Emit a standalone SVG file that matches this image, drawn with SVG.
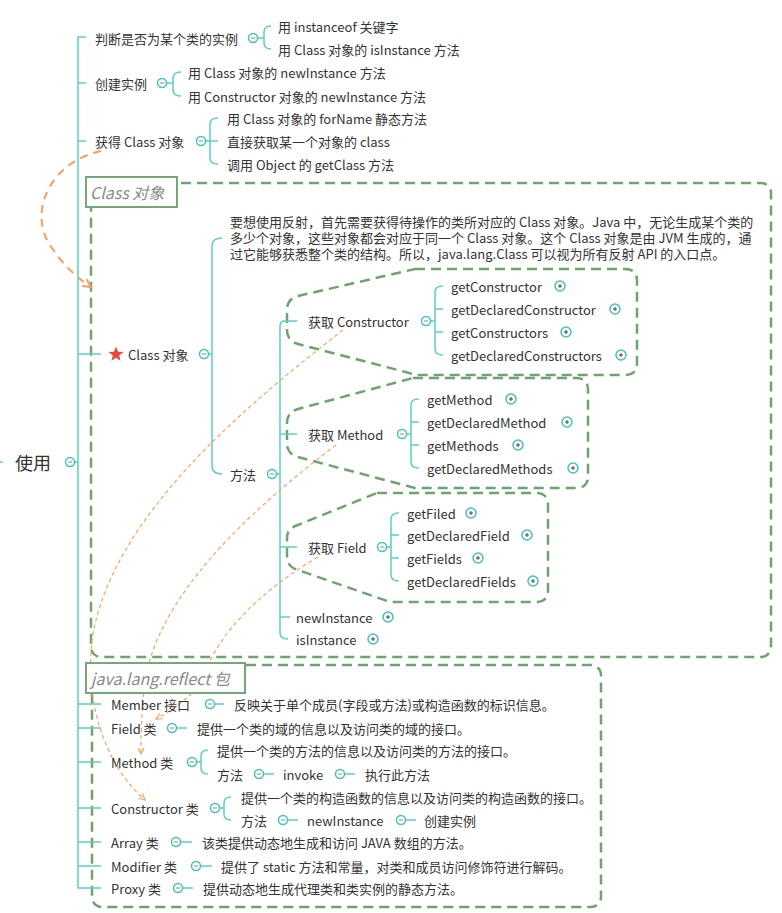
<svg xmlns="http://www.w3.org/2000/svg" width="782" height="913" viewBox="0 0 782 913">
<style>
.t{font-family:"Noto Sans CJK SC","Liberation Sans",sans-serif;font-size:13px;fill:#333;dominant-baseline:central}
.lb{font-family:"Noto Sans CJK SC","Liberation Sans",sans-serif;font-size:16px;font-style:italic;fill:#8a8a8a;dominant-baseline:central}
.ln{fill:none;stroke:#5ccfc0;stroke-width:1.5}
.gd{fill:none;stroke:#6fa36f;stroke-width:2.5;stroke-dasharray:10 6}
.box{fill:#fff;stroke:#74a874;stroke-width:2}
.ob{fill:none;stroke:#f5a05a;stroke-width:2;stroke-dasharray:8 6}
.os{fill:none;stroke:#f5a562;stroke-width:1.2;stroke-dasharray:4 3}
</style>
<defs>
<g id="mi"><circle r="4.5" fill="#fff" stroke="#3fc6b6" stroke-width="1.5"/><line x1="-2.2" x2="2.2" stroke="#8a8a8a" stroke-width="1"/></g>
<g id="pl"><circle r="5" fill="#fff" stroke="#3fc6b6" stroke-width="1.5"/><line x1="-2" x2="2" stroke="#445" stroke-width="1"/><line y1="-2" y2="2" stroke="#445" stroke-width="1"/></g>
<marker id="ab" markerWidth="12" markerHeight="12" refX="9" refY="5" orient="auto" markerUnits="userSpaceOnUse"><path d="M1,1 L9,5 L1,9" fill="none" stroke="#f5a05a" stroke-width="2"/></marker>
<marker id="as" markerWidth="10" markerHeight="10" refX="7" refY="4" orient="auto" markerUnits="userSpaceOnUse"><path d="M1,1 L7,4 L1,7" fill="none" stroke="#f5a562" stroke-width="1.2"/></marker>
</defs>

<!-- group frames -->
<g id="frame-class">
<rect class="gd" x="91" y="183" width="680" height="474" rx="10"/>
</g>
<g id="frame-reflect">
<rect class="gd" x="92" y="665" width="509" height="242" rx="10"/>
</g>
<g id="callouts">
<path class="gd" d="M 415 269 H 625 Q 637 269 637 281 V 363 Q 637 375 625 375 H 417 L 298 344 Q 287 341 287 330 V 310 Q 287 299 298 296 Z"/>
<path class="gd" d="M 413 378 H 576 Q 588 378 588 390 V 476 Q 588 488 576 488 H 415 L 298 457 Q 287 454 287 443 V 423 Q 287 412 298 409 Z"/>
<path class="gd" d="M 377 493 H 536 Q 548 493 548 505 V 590 Q 548 602 536 602 H 390 L 298 570 Q 287 567 287 556 V 538 Q 287 528 298 525 Z"/>
</g>

<!-- connectors -->
<g id="connectors">
<path class="ln" d="M 0 462 H 3 M 75 462 H 78 M 86 37 H 78 V 888 H 101 M 78 83 H 86 M 78 141 H 86 M 78 354 H 101 M 78 704 H 101 M 78 728 H 101 M 78 762 H 101 M 78 808 H 101 M 78 842 H 101 M 78 866 H 101"/>
<path class="ln" d="M 258 38 H 264 M 271 26 Q 264 26 264 32 V 43 Q 264 49 271 49"/>
<path class="ln" d="M 167 83 H 173 M 181 72 Q 173 72 173 78 V 90 Q 173 96 181 96"/>
<path class="ln" d="M 206 141 H 218 M 218 118 Q 210 118 210 124 V 158 Q 210 164 218 164"/>
<path class="ln" d="M 209 354 H 212 M 222 238 Q 212 238 212 246 V 466 Q 212 474 222 474"/>
<path class="ln" d="M 277 474 H 280 M 297 321 H 285 Q 280 321 280 326 V 633 Q 280 639 288 639 M 280 434 H 297 M 280 547 H 297 M 280 617 H 290"/>
<path class="ln" d="M 431 321 H 435 M 443 286 Q 435 286 435 292 V 349 Q 435 355 443 355 M 435 309 H 443 M 435 332 H 443"/>
<path class="ln" d="M 407 434 H 411 M 419 399 Q 411 399 411 405 V 462 Q 411 468 419 468 M 411 422 H 419 M 411 445 H 419"/>
<path class="ln" d="M 387 547 H 391 M 399 513 Q 391 513 391 519 V 575 Q 391 581 399 581 M 391 535 H 399 M 391 558 H 399"/>
<path class="ln" d="M 215 704 H 224 M 177 728 H 187 M 197 762 H 201 M 208 750 Q 201 750 201 756 V 768 Q 201 774 208 774 M 264 774 H 274 M 345 774 H 355"/>
<path class="ln" d="M 220 808 H 224 M 231 797 Q 224 797 224 803 V 814 Q 224 820 231 820 M 288 820 H 298 M 406 820 H 416 M 181 842 H 192 M 201 866 H 212 M 183 888 H 193"/>
<path class="ob" marker-end="url(#ab)" d="M 101 151 C 50 162, 28 212, 50 245 C 62 264, 76 277, 91 287"/>
<path class="os" marker-end="url(#as)" d="M 343 330 C 240 410, 110 520, 92 640 C 84 710, 110 770, 145 800"/>
<path class="os" marker-end="url(#as)" d="M 336 445 C 250 510, 152 600, 144 690 C 141 720, 141 738, 141 754"/>
<path class="os" marker-end="url(#as)" d="M 318 557 C 262 590, 222 630, 206 670 C 196 695, 176 708, 156 719"/>
</g>

<g id="n-root"><text class="t" x="15" y="462" style="font-size:18px">使用</text><use href="#mi" x="70" y="462"/></g>

<g id="n-judge"><text class="t" x="95" y="38">判断是否为某个类的实例</text><use href="#mi" x="253" y="38"/>
<text class="t" x="278" y="26">用 instanceof 关键字</text><text class="t" x="278" y="49">用 Class 对象的 isInstance 方法</text></g>

<g id="n-create"><text class="t" x="95" y="83">创建实例</text><use href="#mi" x="162" y="83"/>
<text class="t" x="188" y="72">用 Class 对象的 newInstance 方法</text><text class="t" x="188" y="96">用 Constructor 对象的 newInstance 方法</text></g>

<g id="n-get"><text class="t" x="95" y="141">获得 Class 对象</text><use href="#mi" x="201" y="141"/>
<text class="t" x="227" y="118">用 Class 对象的 forName 静态方法</text><text class="t" x="227" y="141">直接获取某一个对象的 class</text><text class="t" x="227" y="164">调用 Object 的 getClass 方法</text></g>

<g id="label-class"><rect class="box" x="86" y="177" width="91" height="30"/><text class="lb" x="90" y="192">Class 对象</text></g>

<g id="n-classobj"><polygon fill="#e8483b" points="116,346.5 118,351.7 123.5,352 119.2,355.4 120.6,360.8 116,357.7 111.4,360.8 112.8,355.4 108.5,352 114,351.7"/>
<text class="t" x="128" y="354">Class 对象</text><use href="#mi" x="204" y="354"/></g>

<g id="n-desc"><text class="t" x="230" y="221">要想使用反射，首先需要获得待操作的类所对应的 Class 对象。Java 中，无论生成某个类的</text>
<text class="t" x="230" y="237">多少个对象，这些对象都会对应于同一个 Class 对象。这个 Class 对象是由 JVM 生成的，通</text>
<text class="t" x="230" y="253">过它能够获悉整个类的结构。所以，java.lang.Class 可以视为所有反射 API 的入口点。</text></g>

<g id="n-method"><text class="t" x="230" y="474">方法</text><use href="#mi" x="272" y="474"/></g>

<g id="n-getctor"><text class="t" x="308" y="321">获取 Constructor</text><use href="#mi" x="426" y="321"/>
<text class="t" x="451" y="286">getConstructor</text><use href="#pl" x="560" y="286"/>
<text class="t" x="451" y="309">getDeclaredConstructor</text><use href="#pl" x="615" y="309"/>
<text class="t" x="451" y="332">getConstructors</text><use href="#pl" x="566" y="332"/>
<text class="t" x="451" y="355">getDeclaredConstructors</text><use href="#pl" x="621" y="355"/></g>

<g id="n-getmethod"><text class="t" x="308" y="434">获取 Method</text><use href="#mi" x="402" y="434"/>
<text class="t" x="427" y="399">getMethod</text><use href="#pl" x="511" y="399"/>
<text class="t" x="427" y="422">getDeclaredMethod</text><use href="#pl" x="567" y="422"/>
<text class="t" x="427" y="445">getMethods</text><use href="#pl" x="518" y="445"/>
<text class="t" x="427" y="468">getDeclaredMethods</text><use href="#pl" x="573" y="468"/></g>

<g id="n-getfield"><text class="t" x="308" y="547">获取 Field</text><use href="#mi" x="382" y="547"/>
<text class="t" x="407" y="513">getFiled</text><use href="#pl" x="471" y="513"/>
<text class="t" x="407" y="535">getDeclaredField</text><use href="#pl" x="527" y="535"/>
<text class="t" x="407" y="558">getFields</text><use href="#pl" x="478" y="558"/>
<text class="t" x="407" y="581">getDeclaredFields</text><use href="#pl" x="533" y="581"/></g>

<g id="n-newinst"><text class="t" x="296" y="617">newInstance</text><use href="#pl" x="388" y="617"/></g>
<g id="n-isinst"><text class="t" x="296" y="639">isInstance</text><use href="#pl" x="373" y="639"/></g>

<g id="label-reflect"><rect class="box" x="86" y="663" width="159" height="30"/><text class="lb" x="91" y="678">java.lang.reflect 包</text></g>

<g id="n-member"><text class="t" x="111" y="704">Member 接口</text><use href="#mi" x="210" y="704"/><text class="t" x="234" y="704">反映关于单个成员(字段或方法)或构造函数的标识信息。</text></g>
<g id="n-field"><text class="t" x="111" y="728">Field 类</text><use href="#mi" x="172" y="728"/><text class="t" x="197" y="728">提供一个类的域的信息以及访问类的域的接口。</text></g>
<g id="n-methodcls"><text class="t" x="111" y="762">Method 类</text><use href="#mi" x="192" y="762"/>
<text class="t" x="217" y="750">提供一个类的方法的信息以及访问类的方法的接口。</text>
<text class="t" x="217" y="774">方法</text><use href="#mi" x="259" y="774"/><text class="t" x="283" y="774">invoke</text><use href="#mi" x="340" y="774"/><text class="t" x="365" y="774">执行此方法</text></g>
<g id="n-ctorcls"><text class="t" x="111" y="808">Constructor 类</text><use href="#mi" x="215" y="808"/>
<text class="t" x="241" y="797">提供一个类的构造函数的信息以及访问类的构造函数的接口。</text>
<text class="t" x="241" y="820">方法</text><use href="#mi" x="283" y="820"/><text class="t" x="307" y="820">newInstance</text><use href="#mi" x="401" y="820"/><text class="t" x="424" y="820">创建实例</text></g>
<g id="n-array"><text class="t" x="111" y="842">Array 类</text><use href="#mi" x="176" y="842"/><text class="t" x="202" y="842">该类提供动态地生成和访问 JAVA 数组的方法。</text></g>
<g id="n-modifier"><text class="t" x="111" y="866">Modifier 类</text><use href="#mi" x="196" y="866"/><text class="t" x="221" y="866">提供了 static 方法和常量，对类和成员访问修饰符进行解码。</text></g>
<g id="n-proxy"><text class="t" x="111" y="888">Proxy 类</text><use href="#mi" x="178" y="888"/><text class="t" x="203" y="888">提供动态地生成代理类和类实例的静态方法。</text></g>
</svg>
